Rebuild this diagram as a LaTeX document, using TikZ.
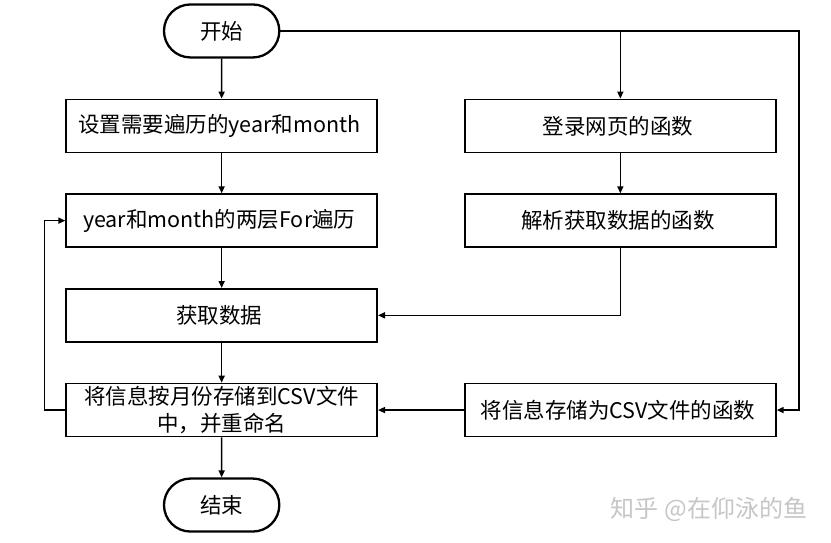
\documentclass[tikz,border=0pt]{standalone}
\usepackage{fontspec}
\setmainfont{Noto Sans CJK SC}
\usepackage{tikz}
\usetikzlibrary{matrix, calc, positioning, arrows.meta, shapes.misc}

\begin{document}
\begin{tikzpicture}[x=1pt, y=-1pt,
            flow/.style={
                matrix of nodes,
                row sep=40pt,
                column sep=86pt,
                nodes={anchor=center, font=\fontsize{21.5}{27}\selectfont}
            },
            box/.style={draw, line width=1.7pt, minimum width=311pt,
                minimum height=53pt, inner sep=2pt, align=center},
            term/.style={draw, line width=2.3pt, rounded rectangle,
                minimum width=122pt, minimum height=53pt},
            arr/.style={line width=1.6pt, -{Triangle[length=7pt,width=6pt]}}]
            \useasboundingbox (0,0) rectangle (831,543);
            \matrix (m) [flow] at (421,268) {
                |[term] (start)| 开始 & \\
                |[box] (setym)| 设置需要遍历的year和month & |[box] (login)| 登录网页的函数 \\
                |[box] (loopym)| year和month的两层For遍历 & |[box] (parse)| 解析获取数据的函数 \\
                |[box] (getdata)| 获取数据 & \\
                |[box, text width=305pt] (savemonth)| 将信息按月份存储到CSV文件\par 中，并重命名 & |[box] (savecsv)| 将信息存储为CSV文件的函数 \\
                |[term] (stop)| 结束 & \\
            };
            % left column
            \draw[arr] (start) -- (setym);
            \draw[arr] (setym) -- (loopym);
            \draw[arr] (loopym) -- (getdata);
            \draw[arr] (getdata) -- (savemonth);
            \draw[arr] (savemonth) -- (stop);
            \draw[arr] (savemonth.west) -- ++(-21,0) |- (loopym.west);
            % right column
            \coordinate (turn) at ($(savecsv.east)+(22,0)$);
            \draw[arr] (start.east) -| (turn) -- (savecsv.east);
            \draw[arr] (login.north |- start.east) -- (login.north);
            \draw[arr] (login) -- (parse);
            \draw[arr] (parse.south) |- (getdata.east);
            \draw[arr] (savecsv) -- (savemonth);
            \node[text=gray!45, font=\fontsize{24}{28}\selectfont] (mark) at (709,509) {知乎 @在仰泳的鱼};
\end{tikzpicture}
\end{document}
